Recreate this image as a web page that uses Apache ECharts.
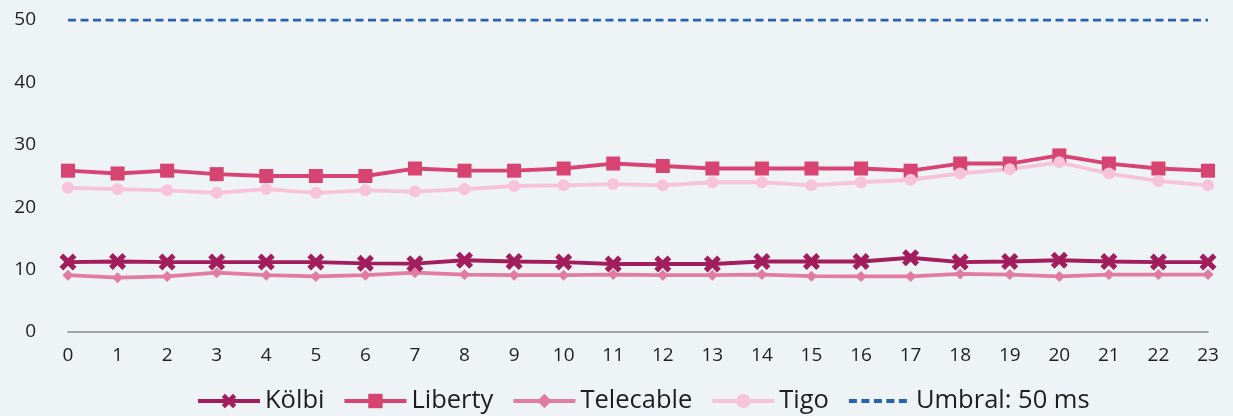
<!DOCTYPE html>
<html><head><meta charset="utf-8">
<script src="https://cdn.jsdelivr.net/npm/echarts@6/dist/echarts.min.js"></script>
<style>html,body{margin:0;padding:0;background:#eef3f6;}#c{width:1233px;height:416px;}</style>
</head><body><div id="c"></div>
<script>
const hours = ['0','1','2','3','4','5','6','7','8','9','10','11','12','13','14','15','16','17','18','19','20','21','22','23'];
const kolbi = [11.2,11.3,11.2,11.2,11.2,11.2,11.0,10.95,11.5,11.3,11.2,10.9,10.9,10.9,11.3,11.3,11.3,11.9,11.2,11.3,11.5,11.3,11.2,11.2];
const liberty = [25.85,25.4,25.85,25.3,25.0,25.0,25.0,26.2,25.85,25.85,26.2,27.0,26.6,26.2,26.2,26.2,26.2,25.85,27.0,27.0,28.3,27.0,26.2,25.85];
const telecable = [9.1,8.7,8.9,9.5,9.1,8.9,9.1,9.5,9.2,9.1,9.1,9.2,9.1,9.1,9.2,8.95,8.9,8.9,9.3,9.2,8.9,9.2,9.2,9.2];
const tigo = [23.1,22.9,22.7,22.3,22.9,22.3,22.7,22.5,22.9,23.4,23.5,23.7,23.5,24.0,24.0,23.5,24.0,24.4,25.4,26.1,27.2,25.4,24.2,23.5];
const umbral = [50,50,50,50,50,50,50,50,50,50,50,50,50,50,50,50,50,50,50,50,50,50,50,50];
const yTicks = {min:0, max:50, interval:10};

const FONT = '"Open Sans", sans-serif';
const crossPath = 'path://M2.2,0 L5,2.8 L7.8,0 L10,2.2 L7.2,5 L10,7.8 L7.8,10 L5,7.2 L2.2,10 L0,7.8 L2.8,5 L0,2.2 Z';
const chart = echarts.init(document.getElementById('c'), null, {renderer:'canvas'});
function ln(name, data, color, symbol, size){
  return {name, type:'line', data, symbol, symbolSize:size, showSymbol:true,
    lineStyle:{color, width:3.8}, itemStyle:{color}, animation:false, z:3};
}
chart.setOption({
  backgroundColor:'#eef3f6',
  animation:false,
  textStyle:{fontFamily:FONT},
  grid:{left:68, right:25, top:20, bottom:84},
  legend:{left:196, top:388, padding:0, itemWidth:62, itemHeight:18, itemGap:18,
    lineStyle:{width:4},
    textStyle:{fontSize:25.5, color:'#1e1e1e', fontFamily:FONT},
    data:['Kölbi','Liberty','Telecable','Tigo',{name:'Umbral: 50 ms', itemStyle:{opacity:0}}]},
  xAxis:{type:'category', data:hours, boundaryGap:false,
    axisLine:{lineStyle:{color:'#8a8a8a', width:1.5}}, axisTick:{show:false},
    axisLabel:{fontSize:19, color:'#1e1e1e', margin:14, fontFamily:FONT}},
  yAxis:{type:'value', min:yTicks.min, max:yTicks.max, interval:yTicks.interval,
    splitLine:{show:false}, axisLine:{show:false}, axisTick:{show:false},
    axisLabel:{fontSize:19, color:'#1e1e1e', margin:32, fontFamily:FONT}},
  series:[
    ln('Kölbi', kolbi, '#a21d5c', crossPath, 17),
    ln('Liberty', liberty, '#d84472', 'rect', 14),
    ln('Telecable', telecable, '#e27c9f', 'diamond', 11),
    ln('Tigo', tigo, '#f7c3d8', 'circle', 12),
    {name:'Umbral: 50 ms', type:'line', data:umbral, symbol:'none',
      lineStyle:{color:'#2763ae', width:3, type:[8,4.5]}, itemStyle:{color:'#2763ae'}, z:2}
  ]
});
</script></body></html>
